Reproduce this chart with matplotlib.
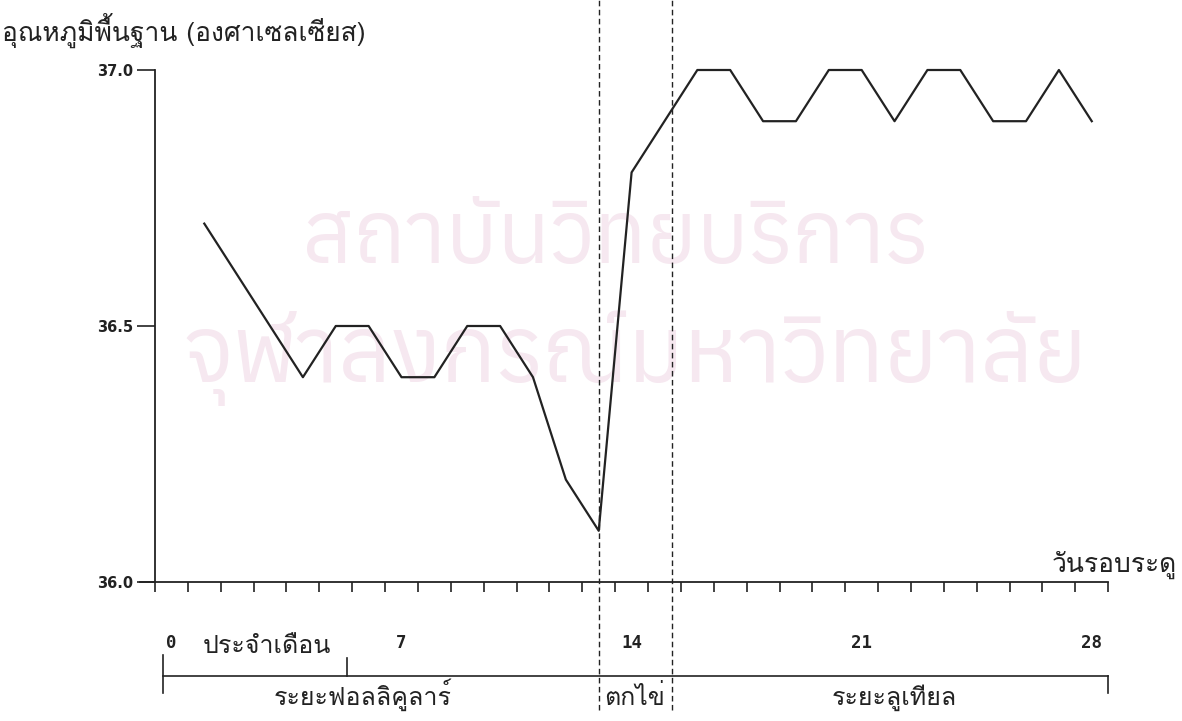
import matplotlib
matplotlib.use("Agg")
import matplotlib.pyplot as plt
from matplotlib import font_manager
from fontTools.ttLib import TTFont

# ---- data ----
days = list(range(1, 29))
temps = [36.7, 36.6, 36.5, 36.4, 36.5, 36.5, 36.4, 36.4, 36.5, 36.5,
         36.4, 36.2, 36.1, 36.8, 36.9, 37.0, 37.0, 36.9, 36.9, 37.0,
         37.0, 36.9, 37.0, 37.0, 36.9, 36.9, 37.0, 36.9]
yticks = [36.0, 36.5, 37.0]
day_labels = ["0", "7", "14", "21", "28"]
day_label_pos = [0, 7, 14, 21, 28]
ovulation = [13.5, 15.72]
phases = ["ระยะฟอลลิคูลาร์", "ตกไข่", "ระยะลูเทียล"]
phase_mid = [6.33, 14.6, 22.5]


def has_thai(name):
    for f in font_manager.fontManager.ttflist:
        if f.name != name:
            continue
        try:
            cmap = TTFont(f.fname, fontNumber=0, lazy=True).getBestCmap()
            return bool(cmap) and 0x0E01 in cmap
        except Exception:
            return False
    return False


def pick(names):
    for n in names:
        if has_thai(n):
            return n
    return "DejaVu Sans"


thai = pick(["Loma", "Garuda", "Norasi", "FreeSerif"])
thai_wm = pick(["Anuphan", "Athiti", "Bai Jamjuree", "Loma"])
plt.rcParams['font.family'] = [thai, 'DejaVu Sans']

fig = plt.figure(figsize=(11.82, 7.21), dpi=100)
ax = fig.add_axes([140.2 / 1182, 139 / 721, 968 / 1182, 512 / 721])
ax.patch.set_alpha(0)

ink = "#222222"
ax.plot([d + 0.5 for d in days], temps, color=ink, lw=1.6, clip_on=False, zorder=3)

ax.set_xlim(-0.45, 29)
ax.set_ylim(36.0, 37.0)
for s in ["top", "right"]:
    ax.spines[s].set_visible(False)
ax.spines["left"].set_position(("data", 0))
for s in ["left", "bottom"]:
    ax.spines[s].set_color(ink)
    ax.spines[s].set_linewidth(1.3)
ax.set_xticks(range(0, 30))
ax.set_xticklabels([])
ax.tick_params(axis="x", direction="out", length=7, width=1.2, color=ink)
ax.set_yticks(yticks)
ax.set_yticklabels([f"{v:.1f}" for v in yticks], family="DejaVu Sans", fontweight="bold",
                   fontsize=10.5, color=ink)
ax.tick_params(axis="y", direction="out", length=13, width=1.2, color=ink, pad=3)

for xv in ovulation:
    ax.plot([xv, xv], [35.75, 37.137], color=ink, lw=1.0, ls=(0, (4, 2.5)),
            clip_on=False, zorder=2)

# numbers under the axis
for p, lab in zip(day_label_pos, day_labels):
    ax.text(p + 0.5, 35.881, lab, ha="center", va="center", fontsize=12.5,
            family="DejaVu Sans Mono", fontweight="bold", color=ink, clip_on=False)
ax.text(1.44, 35.861, "ประจำเดือน", ha="left", va="baseline", fontsize=18, color=ink)

# phase bracket
yb = 35.816
ax.plot([0.24, 29], [yb, yb], color=ink, lw=1.2, clip_on=False)
ax.plot([0.24, 0.24], [35.857, 35.783], color=ink, lw=1.2, clip_on=False)
ax.plot([5.84, 5.84], [35.852, yb], color=ink, lw=1.2, clip_on=False)
ax.plot([29, 29], [yb, 35.783], color=ink, lw=1.2, clip_on=False)
for xm, lab in zip(phase_mid, phases):
    ax.text(xm, 35.760, lab, ha="center", va="baseline", fontsize=18, color=ink)

ax.text(31.09, 36.02, "วันรอบระดู", ha="right", va="baseline", fontsize=19,
        color=ink, clip_on=False)
fig.text(2 / 1182, 1 - 41 / 721, "อุณหภูมิพื้นฐาน (องศาเซลเซียส)", ha="left",
         va="baseline", fontsize=19, color=ink)

# watermark
wm = "#f6e8f0"
fig.text(302 / 1182, 1 - 263 / 721, "สถาบันวิทยบริการ", ha="left", va="baseline",
         fontsize=62, color=wm, family=thai_wm, zorder=-5)
fig.text(182 / 1182, 1 - 382 / 721, "จุฬาลงกรณ์มหาวิทยาลัย", ha="left", va="baseline",
         fontsize=66, color=wm, family=thai_wm, zorder=-5)

fig.savefig("out.png", dpi=100)
